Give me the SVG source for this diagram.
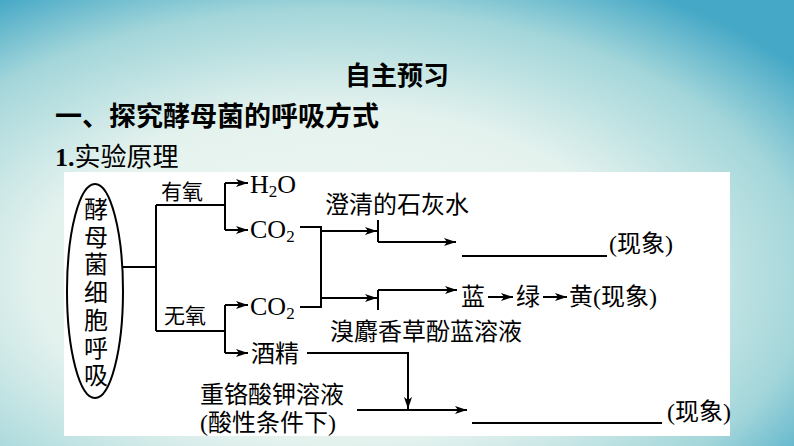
<svg xmlns="http://www.w3.org/2000/svg" width="794" height="446" viewBox="0 0 794 446">
<defs>
<radialGradient id="bg" cx="0.42" cy="0.62" r="0.75">
<stop offset="0" stop-color="#f3f9f5"/>
<stop offset="0.5" stop-color="#e4f2ee"/>
<stop offset="0.8" stop-color="#a3d6da"/>
<stop offset="1" stop-color="#45a8c6"/>
</radialGradient>
<marker id="ah" viewBox="0 0 12 8" refX="12" refY="4" markerWidth="12" markerHeight="8" markerUnits="userSpaceOnUse" orient="auto">
<path d="M0,0 L12,4 L0,8 L3,4 z" fill="#000"/>
</marker>
<style>
.ln{fill:none;stroke:#000;stroke-width:2}
.ar{fill:none;stroke:#000;stroke-width:2;marker-end:url(#ah)}
.t{font-family:"Liberation Serif","Noto Sans CJK SC",serif;font-size:24px;fill:#000}
.c{font-family:"Liberation Serif","Noto Sans CJK SC",serif;font-size:26px;fill:#000}
.s{font-family:"Liberation Serif","Noto Sans CJK SC",serif;font-size:21px;fill:#000}
.h{font-family:"Noto Sans CJK SC","Liberation Sans",sans-serif;font-weight:bold;fill:#000}
.sub{font-size:17px}
</style>
</defs>
<rect x="0" y="0" width="794" height="446" fill="url(#bg)"/>
<rect x="64" y="172" width="666" height="264" fill="#fff"/>

<g id="titles">
<text class="h" x="397" y="85" font-size="26" text-anchor="middle">自主预习</text>
<text class="h" x="55" y="126" font-size="27">一、探究酵母菌的呼吸方式</text>
<text x="55" y="166" font-family="Liberation Serif,Noto Sans CJK SC,serif" font-size="26"><tspan font-weight="bold">1.</tspan>实验原理</text>
</g>

<g id="yeast">
<ellipse cx="95" cy="291" rx="28" ry="107" class="ln"/>
<text class="t" x="96" text-anchor="middle"><tspan x="96" y="218">酵</tspan><tspan x="96" y="246">母</tspan><tspan x="96" y="273">菌</tspan><tspan x="96" y="301">细</tspan><tspan x="96" y="329">胞</tspan><tspan x="96" y="357">呼</tspan><tspan x="96" y="384">吸</tspan></text>
</g>

<g id="labels">
<text class="s" x="161" y="199">有氧</text>
<text class="s" x="164" y="323">无氧</text>
<text class="c" x="250" y="193">H<tspan class="sub" dy="4">2</tspan><tspan dy="-4">O</tspan></text>
<text class="c" x="250" y="238">CO<tspan class="sub" dy="4">2</tspan></text>
<text class="c" x="250" y="315">CO<tspan class="sub" dy="4">2</tspan></text>
<text class="t" x="251" y="362">酒精</text>
<text class="t" x="325" y="213">澄清的石灰水</text>
<text class="t" x="609" y="252">(现象)</text>
<text class="t" x="461" y="305">蓝</text>
<text class="t" x="516" y="305">绿</text>
<text class="t" x="569" y="305">黄(现象)</text>
<text class="t" x="330" y="340">溴麝香草酚蓝溶液</text>
<text class="t" x="200" y="403">重铬酸钾溶液</text>
<text class="t" x="200" y="431">(酸性条件下)</text>
<text class="t" x="667" y="420">(现象)</text>
</g>

<g id="connectors">
<path class="ln" d="M123,267 H156 M156,205 V331 M156,205 H225 M156,331 H225 M225,183 V230 M225,305 V353"/>
<path class="ar" d="M225,183 H248"/>
<path class="ar" d="M225,230 H248"/>
<path class="ar" d="M225,305 H248"/>
<path class="ar" d="M225,353 H248"/>
<path class="ln" d="M300,227 H321 V307 H300"/>
<path class="ar" d="M321,231 H377"/>
<path class="ar" d="M321,298 H377"/>
<path class="ln" d="M378,220 V242 M378,290 V310"/>
<path class="ar" d="M378,242 H456"/>
<path class="ar" d="M378,290 H457"/>
<path class="ln" d="M462,256 H607"/>
<path class="ar" d="M488,297 H513"/>
<path class="ar" d="M543,297 H567"/>
<path class="ar" d="M307,353 H408 V409"/>
<path class="ar" d="M357,410 H467"/>
<path class="ln" d="M472,423 H662"/>
</g>
</svg>
